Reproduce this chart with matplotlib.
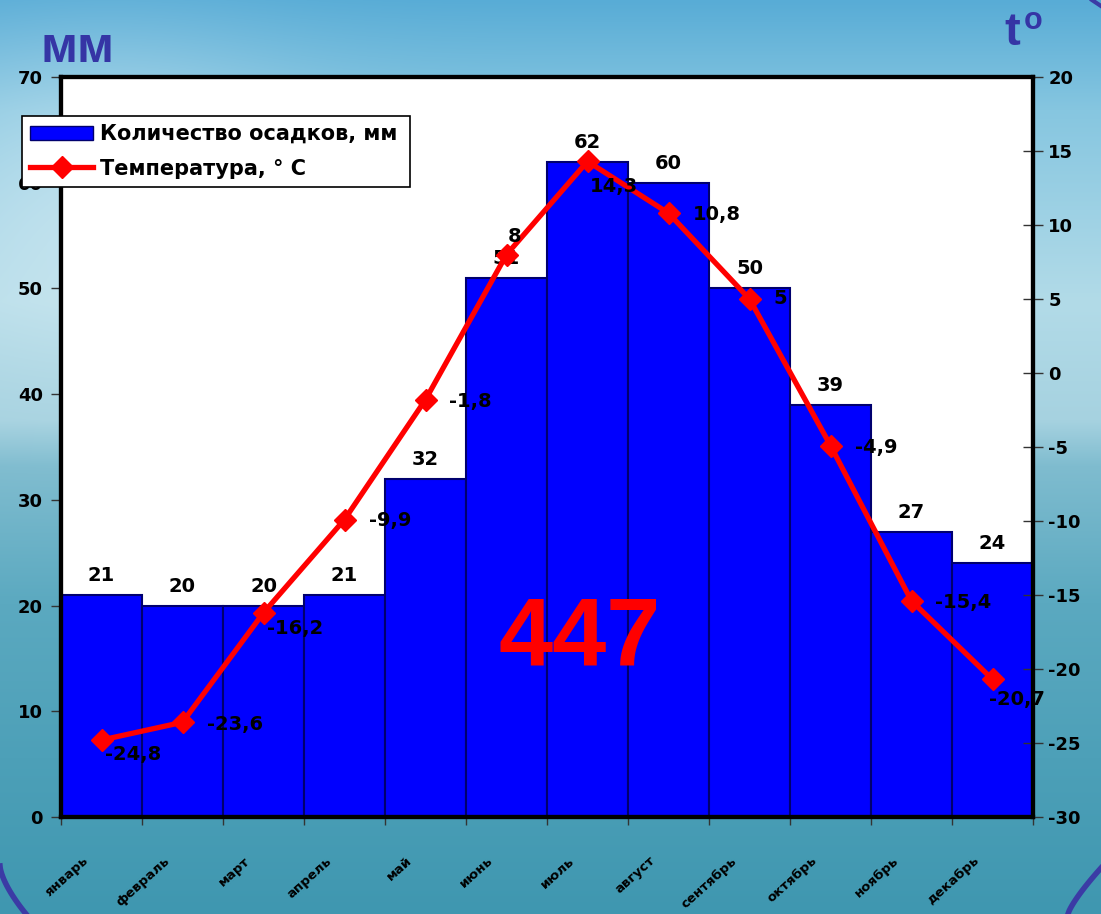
import numpy as np
import matplotlib.pyplot as plt
from matplotlib.lines import Line2D
from matplotlib.patches import Patch
from matplotlib.colors import to_rgb

plt.rcParams['font.family'] = ['DejaVu Sans']
plt.rcParams['font.weight'] = 'bold'
plt.rcParams['axes.unicode_minus'] = False

# --- data ---
months = ['январь', 'февраль', 'март', 'апрель', 'май', 'июнь',
          'июль', 'август', 'сентябрь', 'октябрь', 'ноябрь', 'декабрь']
precip = [21, 20, 20, 21, 32, 51, 62, 60, 50, 39, 27, 24]
temp = [-24.8, -23.6, -16.2, -9.9, -1.8, 8, 14.3, 10.8, 5, -4.9, -15.4, -20.7]
total_label = '447'
legend_labels = ['Количество осадков, мм', 'Температура, ° С']

# label offsets for temperature values (pixels)
temp_offsets = [(4, -14), (24, -2), (4, -16), (24, -1), (24, -2), (1, 18),
                (2, -25), (24, -1), (24, 0), (24, -2), (24, -2), (-3, -20)]

W, H = 1101, 914
fig = plt.figure(figsize=(W / 100, H / 100), dpi=100)

# background: sky fading into sea
ys = np.linspace(0, 1, H)
xs = np.linspace(0, 1, W)
stops = [(0.00, '#58acd6'), (0.12, '#86c6e0'), (0.33, '#b2dbe8'), (0.46, '#a6d2e0'),
         (0.51, '#7fbccf'), (0.66, '#5ba9c0'), (1.00, '#3f97b0')]
pos = [s[0] for s in stops]
cols = np.array([to_rgb(s[1]) for s in stops])
col = np.stack([np.interp(ys, pos, cols[:, k]) for k in range(3)], axis=1)
img = np.repeat(col[:, None, :], W, axis=1)
gx, gy = np.meshgrid(xs, ys)
glare = np.exp(-((gx - 0.1) ** 2 + (gy - 0.22) ** 2) / 0.03) * 0.35
img = img + (1 - img) * glare[:, :, None]

ax_bg = fig.add_axes([0, 0, 1, 1], zorder=-10)
ax_bg.imshow(img, extent=[0, W, H, 0], aspect='auto')
ax_bg.set_xlim(0, W)
ax_bg.set_ylim(H, 0)
ax_bg.axis('off')
# corner decorations
t = np.linspace(0, 1, 30)
ax_bg.plot(0 + 26 * t ** 1.5, 866 + 48 * t, color='#3b3ba5', lw=4)
ax_bg.plot(1068 + 33 * t, 914 - 46 * t ** 0.8, color='#3b3ba5', lw=4)
ax_bg.plot(1092 + 9 * t, 0 + 6 * t, color='#3b3ba5', lw=3)

# --- main chart ---
ax = fig.add_axes([61 / W, 1 - 817 / H, 972 / W, 740 / H])
ax.set_facecolor('white')
x = np.arange(len(months))
ax.bar(x, precip, width=1, color='#0000ff', edgecolor='#00006e', linewidth=1.5, zorder=2)
ax.set_xlim(-0.5, 11.5)
ax.set_ylim(0, 70)
ax.set_yticks(range(0, 71, 10))
ax.set_xticks(np.arange(-0.5, 12, 1))
ax.set_xticklabels([])
ax.tick_params(axis='x', direction='out', length=6, width=1, color='#333333')
ax.tick_params(axis='y', direction='out', length=7, width=1, color='#333333',
               labelsize=13, pad=6)
for s in ax.spines.values():
    s.set_linewidth(3)

for i, v in enumerate(precip):
    ax.annotate(str(v), (i, v), xytext=(0, 10), textcoords='offset pixels',
                ha='center', va='bottom', fontsize=14, fontweight='bold')

for i, m in enumerate(months):
    ax.annotate(m, xy=(i, 0), xycoords=('data', 'axes fraction'), xytext=(-15, -42),
                textcoords='offset pixels', rotation=42, ha='right', va='center',
                rotation_mode='anchor', fontsize=9.5, fontweight='bold',
                annotation_clip=False)

ax2 = ax.twinx()
ax2.plot(x, temp, color='#ff0000', lw=3.8, marker='D', ms=11, zorder=3)
ax2.set_ylim(-30, 20)
ax2.set_yticks(range(-30, 21, 5))
ax2.tick_params(axis='y', direction='inout', length=14, width=1, color='#333333',
                labelsize=13, pad=4)
for s in ax2.spines.values():
    s.set_linewidth(3)

for i, v in enumerate(temp):
    lab = '{:g}'.format(v).replace('.', ',')
    ax2.annotate(lab, (i, v), xytext=temp_offsets[i], textcoords='offset pixels',
                 ha='left', va='center', fontsize=14, fontweight='bold')

ax2.text(0.534, 0.205, total_label, transform=ax.transAxes, color='#ff0000',
         fontsize=70, fontweight='bold', ha='center', va='baseline', zorder=5,
         family=['Liberation Sans', 'DejaVu Sans'])

# axis titles
title_font = ['Liberation Sans', 'DejaVu Sans']
fig.text(40 / W, 1 - 62 / H, 'мм', fontsize=36, color='#3535a5', fontweight='bold',
         ha='left', va='baseline', family=title_font)
fig.text(1004 / W, 1 - 45 / H, 't', fontsize=34, color='#3535a5', fontweight='bold',
         ha='left', va='baseline', family=title_font)
fig.text(1024 / W, 1 - 29 / H, 'o', fontsize=22, color='#3535a5', fontweight='bold',
         ha='left', va='baseline', family=title_font)

handles = [Patch(facecolor='#0000ff', edgecolor='#00006e'),
           Line2D([], [], color='#ff0000', lw=3.8, marker='D', ms=11)]
leg = fig.legend(handles, legend_labels, loc='lower left',
                 bbox_to_anchor=(22 / W, 1 - 187 / H, 388 / W, 74 / H), mode='expand',
                 borderaxespad=0, fancybox=False, edgecolor='black', framealpha=1,
                 prop=dict(size=15, weight='bold'), handlelength=3, handletextpad=0.35,
                 labelspacing=0.7, borderpad=0.4)
leg.get_frame().set_linewidth(1.2)

fig.savefig('out.png', dpi=100)
